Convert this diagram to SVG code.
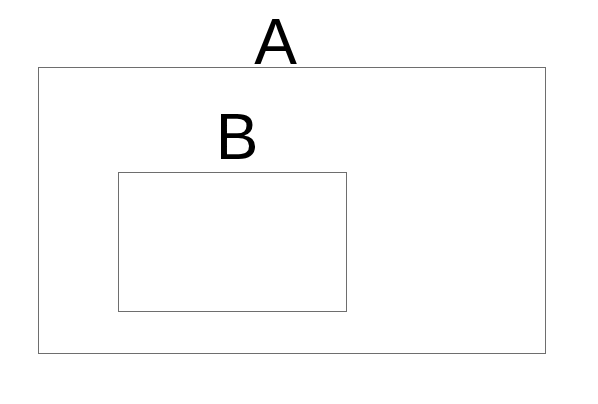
<svg xmlns="http://www.w3.org/2000/svg" width="598" height="404" viewBox="0 0 598 404">
<style>
.box{fill:none;stroke:#6e6e6e;stroke-width:1}
.lbl{font-family:"Liberation Sans",Arial,sans-serif;font-size:64px;fill:#000;text-anchor:middle}
</style>
<rect width="598" height="404" fill="#fff"/>
<g id="A">
<rect class="box" x="38.5" y="67.5" width="507" height="286"/>
<text class="lbl" x="275.5" y="64">A</text>
</g>
<g id="B">
<rect class="box" x="118.5" y="172.5" width="228" height="139"/>
<text class="lbl" x="237" y="159">B</text>
</g>
<g id="connectors"></g>
</svg>
